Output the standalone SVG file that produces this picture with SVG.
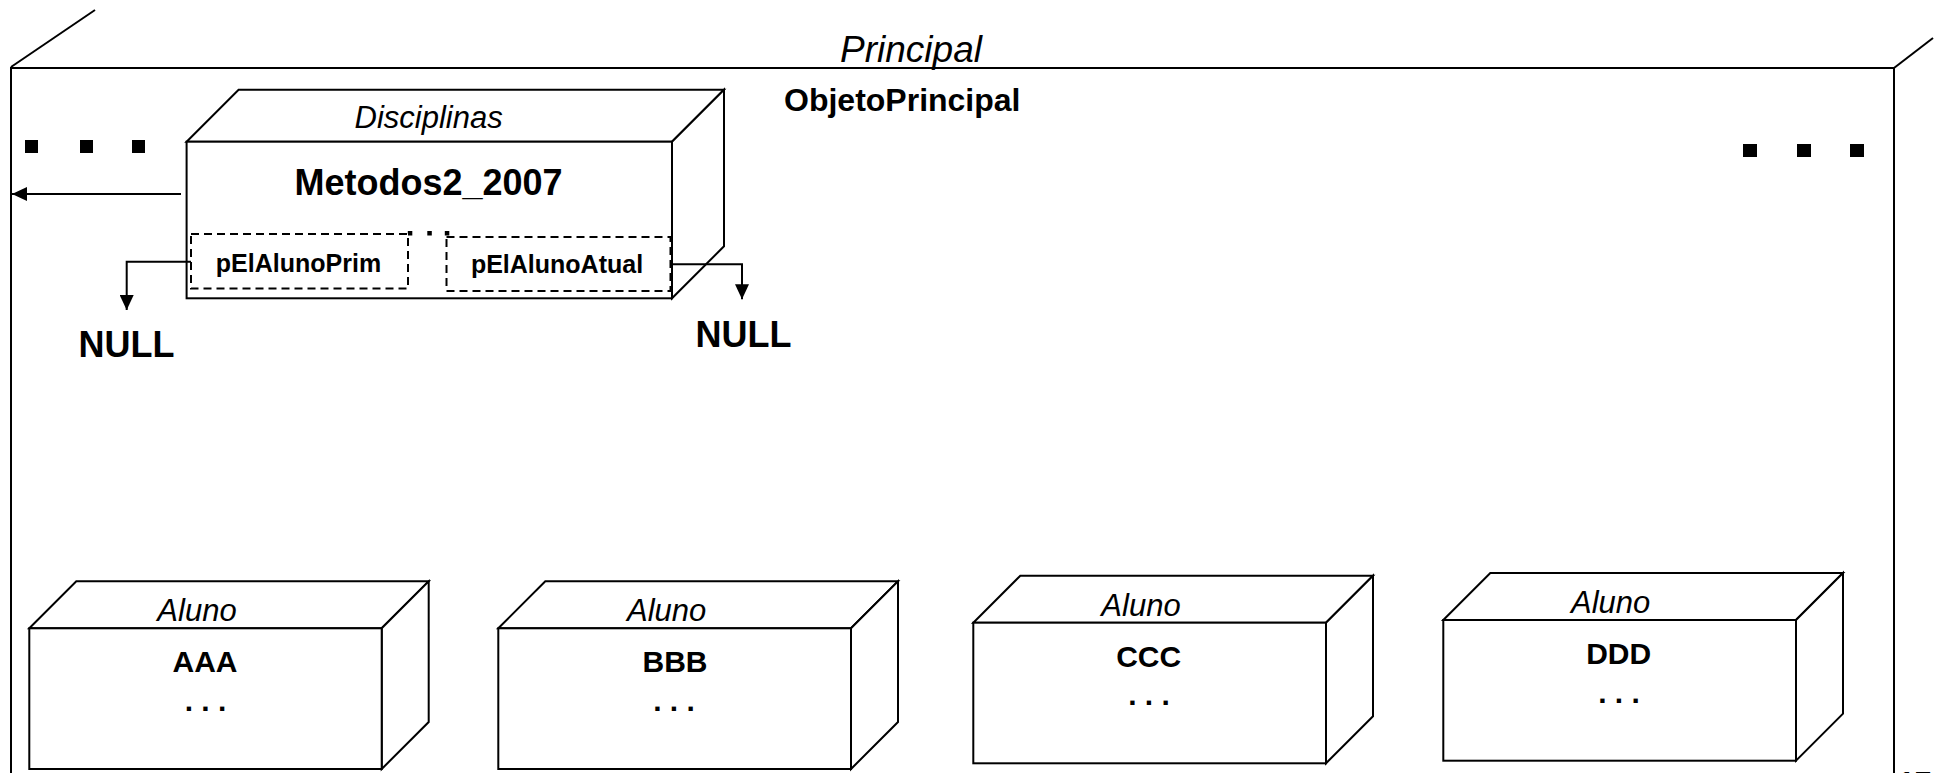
<svg xmlns="http://www.w3.org/2000/svg" width="1937" height="773" viewBox="0 0 1937 773">
<defs>
<style>
.ln{fill:none;stroke:#000;stroke-width:2}
.box{fill:#fff;stroke:#000;stroke-width:2;stroke-linejoin:miter}
.dash{fill:#fff;stroke:#000;stroke-width:2;stroke-dasharray:8 5}
.it{font-family:"Liberation Sans",Arial,sans-serif;font-style:italic;fill:#000}
.bd{font-family:"Liberation Sans",Arial,sans-serif;font-weight:bold;fill:#000}
.sq{fill:#000}
</style>
<marker id="ah" markerUnits="userSpaceOnUse" markerWidth="16" markerHeight="14" refX="15" refY="7" orient="auto">
<path d="M0,0 L15,7 L0,14 Z" fill="#000"/>
</marker>
</defs>
<rect width="1937" height="773" fill="#fff"/>

<g id="principal">
<path class="ln" d="M11,780 V68 H1894 V780"/>
<line class="ln" x1="11" y1="67" x2="95" y2="10"/>
<line class="ln" x1="1894" y1="68" x2="1933" y2="38"/>
<text class="it" x="911" y="62" font-size="37" text-anchor="middle">Principal</text>
<text class="bd" x="784" y="111" font-size="32">ObjetoPrincipal</text>
<rect class="sq" x="25" y="140" width="13" height="13"/>
<rect class="sq" x="80" y="140" width="13" height="13"/>
<rect class="sq" x="132" y="140" width="13" height="13"/>
<rect class="sq" x="1743" y="144" width="14" height="13"/>
<rect class="sq" x="1797" y="144" width="14" height="13"/>
<rect class="sq" x="1850" y="144" width="14" height="13"/>
<text class="bd" x="1898" y="792" font-size="30">17</text>
</g>

<g id="disciplinas">
<path class="box" d="M186.6,141.7 L238.6,89.7 H724 L672,141.7 Z"/>
<path class="box" d="M672,141.7 L724,89.7 V246.3 L672,298.3 Z"/>
<rect class="box" x="186.6" y="141.7" width="485.4" height="156.6"/>
<text class="it" x="428.6" y="128" font-size="31" text-anchor="middle">Disciplinas</text>
<text class="bd" x="428.5" y="195" font-size="36" text-anchor="middle">Metodos2_2007</text>
<rect class="sq" x="407.8" y="231" width="4.5" height="4.5"/>
<rect class="sq" x="427.3" y="231" width="4.5" height="4.5"/>
<rect class="sq" x="444.8" y="231" width="4.5" height="4.5"/>
<g id="pElAlunoPrim">
<rect class="dash" x="191" y="234" width="217" height="54.5"/>
<text class="bd" x="298.5" y="271.7" font-size="25" text-anchor="middle">pElAlunoPrim</text>
</g>
<g id="pElAlunoAtual">
<rect class="dash" x="446.5" y="237" width="224" height="54"/>
<text class="bd" x="557" y="273.3" font-size="25" text-anchor="middle">pElAlunoAtual</text>
</g>
</g>

<g id="null1">
<text class="bd" x="126.5" y="357" font-size="36" text-anchor="middle">NULL</text>
</g>
<g id="null2">
<text class="bd" x="743.5" y="347" font-size="36" text-anchor="middle">NULL</text>
</g>

<g id="alunoAAA">
<path class="box" d="M29.3,628.3 L76.3,581.3 H428.7 L381.7,628.3 Z"/>
<path class="box" d="M381.7,628.3 L428.7,581.3 V722 L381.7,769 Z"/>
<rect class="box" x="29.3" y="628.3" width="352.4" height="140.7"/>
<text class="it" x="197" y="620.7" font-size="31" text-anchor="middle">Aluno</text>
<text class="bd" x="205" y="671.7" font-size="30" text-anchor="middle">AAA</text>
<text class="bd" x="205.5" y="711" font-size="30" text-anchor="middle">. . .</text>
</g>

<g id="alunoBBB">
<path class="box" d="M498.3,628.3 L545.3,581.3 H898 L851,628.3 Z"/>
<path class="box" d="M851,628.3 L898,581.3 V722 L851,769 Z"/>
<rect class="box" x="498.3" y="628.3" width="352.7" height="140.7"/>
<text class="it" x="666.7" y="620.7" font-size="31" text-anchor="middle">Aluno</text>
<text class="bd" x="675" y="671.7" font-size="30" text-anchor="middle">BBB</text>
<text class="bd" x="674" y="711" font-size="30" text-anchor="middle">. . .</text>
</g>

<g id="alunoCCC">
<path class="box" d="M973.3,622.7 L1020.3,575.7 H1373 L1326,622.7 Z"/>
<path class="box" d="M1326,622.7 L1373,575.7 V716.3 L1326,763.3 Z"/>
<rect class="box" x="973.3" y="622.7" width="352.7" height="140.6"/>
<text class="it" x="1141" y="615.7" font-size="31" text-anchor="middle">Aluno</text>
<text class="bd" x="1148.7" y="666.7" font-size="30" text-anchor="middle">CCC</text>
<text class="bd" x="1149" y="705" font-size="30" text-anchor="middle">. . .</text>
</g>

<g id="alunoDDD">
<path class="box" d="M1443.3,620 L1490.3,573 H1843 L1796,620 Z"/>
<path class="box" d="M1796,620 L1843,573 V713.7 L1796,760.7 Z"/>
<rect class="box" x="1443.3" y="620" width="352.7" height="140.7"/>
<text class="it" x="1610.7" y="612.7" font-size="31" text-anchor="middle">Aluno</text>
<text class="bd" x="1618.7" y="664" font-size="30" text-anchor="middle">DDD</text>
<text class="bd" x="1619" y="703" font-size="30" text-anchor="middle">. . .</text>
</g>

<g id="connectors">
<path class="ln" d="M181,194 H12" marker-end="url(#ah)"/>
<path class="ln" d="M191,261.7 H126.7 V310" marker-end="url(#ah)"/>
<path class="ln" d="M670.5,264.3 H742 V299.3" marker-end="url(#ah)"/>
</g>
</svg>
